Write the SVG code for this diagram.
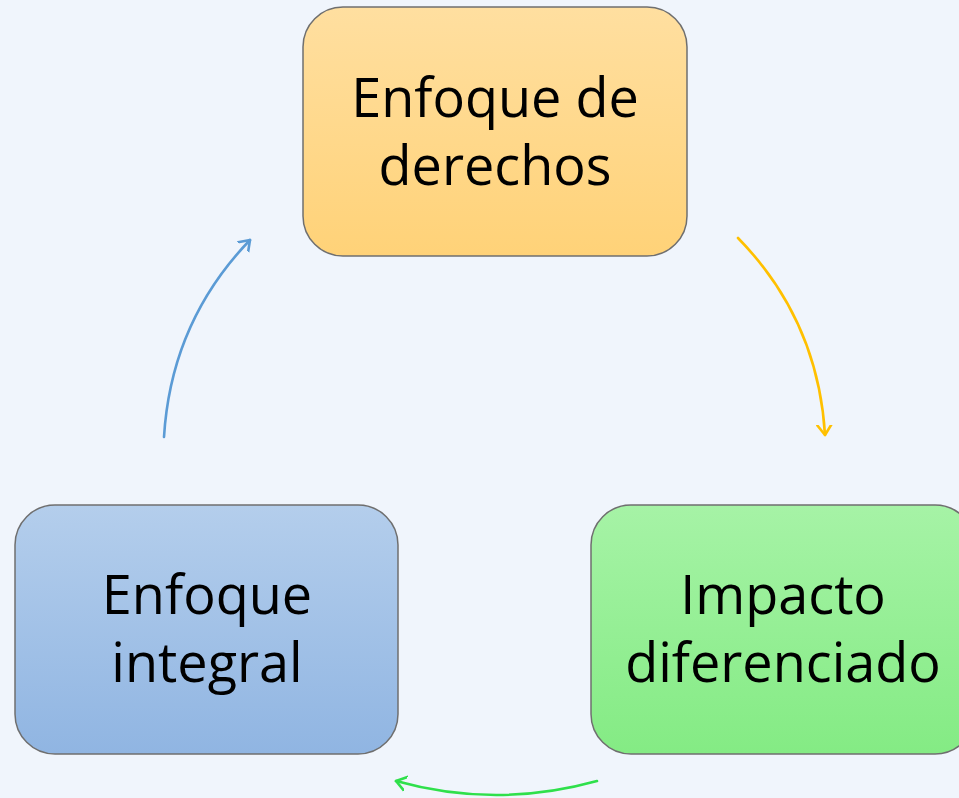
<svg xmlns="http://www.w3.org/2000/svg" width="959" height="798" viewBox="0 0 959 798">
<style>
.box{stroke:#6f6f6f;stroke-width:1.5}
.lbl{font-family:"Open Sans","Liberation Sans",sans-serif;font-size:54px;fill:#000;text-anchor:middle}
.arc{fill:none;stroke-width:2.6;stroke-linecap:round}
</style>
<defs>
<linearGradient id="gY" x1="0" y1="0" x2="0" y2="1"><stop offset="0" stop-color="#FFDFA0"/><stop offset="1" stop-color="#FFD278"/></linearGradient>
<linearGradient id="gB" x1="0" y1="0" x2="0" y2="1"><stop offset="0" stop-color="#B4CEEC"/><stop offset="1" stop-color="#90B5E2"/></linearGradient>
<linearGradient id="gG" x1="0" y1="0" x2="0" y2="1"><stop offset="0" stop-color="#A6F3A6"/><stop offset="1" stop-color="#84EB84"/></linearGradient>
<marker id="aB" markerWidth="20" markerHeight="20" refX="10" refY="10" orient="auto" markerUnits="userSpaceOnUse"><polyline points="0,3 10,10 0,17" fill="none" stroke="#5B9BD5" stroke-width="2.6" stroke-linecap="round" stroke-linejoin="round"/></marker>
<marker id="aY" markerWidth="20" markerHeight="20" refX="10" refY="10" orient="auto" markerUnits="userSpaceOnUse"><polyline points="0,3 10,10 0,17" fill="none" stroke="#FFC000" stroke-width="2.6" stroke-linecap="round" stroke-linejoin="round"/></marker>
<marker id="aG" markerWidth="20" markerHeight="20" refX="10" refY="10" orient="auto" markerUnits="userSpaceOnUse"><polyline points="0,3 10,10 0,17" fill="none" stroke="#2FE04B" stroke-width="2.6" stroke-linecap="round" stroke-linejoin="round"/></marker>
</defs>
<rect x="0" y="0" width="959" height="798" fill="#F0F5FC"/>
<g id="connectors">
<path class="arc" stroke="#FFC000" d="M738,238 Q818,320 825,435" marker-end="url(#aY)"/>
<path class="arc" stroke="#2FE04B" d="M597,781 Q496,809 396,781" marker-end="url(#aG)"/>
<path class="arc" stroke="#5B9BD5" d="M164,437 Q171,322 250,240" marker-end="url(#aB)"/>
</g>
<g id="node-derechos">
<rect class="box" x="303" y="7" width="384" height="249" rx="40" fill="url(#gY)"/>
<text class="lbl" x="495" y="117">Enfoque de</text>
<text class="lbl" x="495" y="185">derechos</text>
</g>
<g id="node-impacto">
<rect class="box" x="591" y="505" width="384" height="249" rx="40" fill="url(#gG)"/>
<text class="lbl" x="783" y="614">Impacto</text>
<text class="lbl" x="783" y="682">diferenciado</text>
</g>
<g id="node-integral">
<rect class="box" x="15" y="505" width="383" height="249" rx="40" fill="url(#gB)"/>
<text class="lbl" x="207" y="614">Enfoque</text>
<text class="lbl" x="207" y="682">integral</text>
</g>
</svg>
